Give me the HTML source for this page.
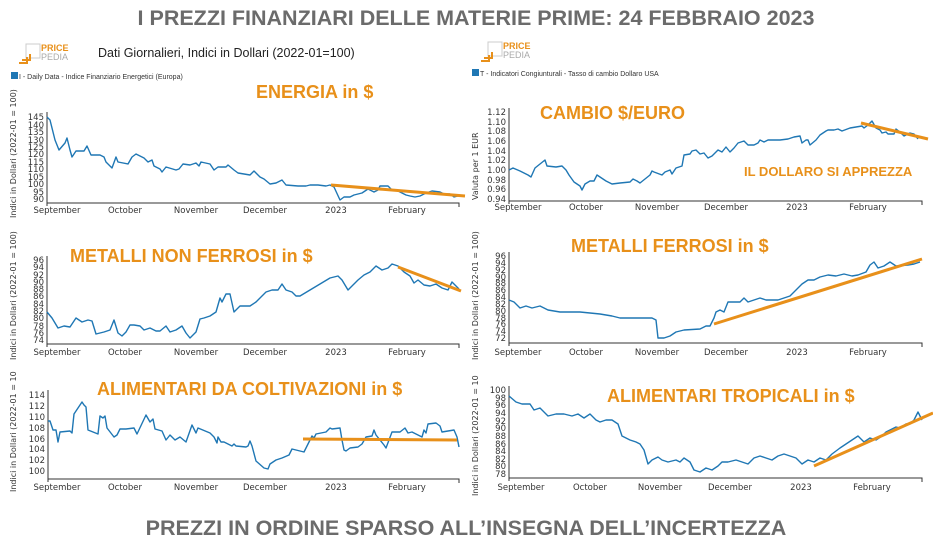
<!DOCTYPE html>
<html><head><meta charset="utf-8"><style>
body{margin:0;background:#fff;width:933px;height:554px;overflow:hidden}
svg{display:block;font-family:"Liberation Sans","DejaVu Sans",sans-serif}
.t{fill:#333;font-size:8.5px;text-anchor:end;font-family:"DejaVu Sans",sans-serif}
.m{fill:#333;font-size:8.5px;text-anchor:middle;font-family:"DejaVu Sans",sans-serif}
.s{fill:none;stroke:#1f77b4;stroke-width:1.4;stroke-linejoin:round}
.o{stroke:#e8901a;stroke-width:3}
.h{fill:#e8901a;font-weight:bold;font-size:18px}
.ax{stroke:#333;stroke-width:1;fill:none}
.yt{fill:#333;font-size:8px;font-family:"DejaVu Sans",sans-serif}
</style></head><body>
<svg width="933" height="554" viewBox="0 0 933 554">
<text x="476" y="25" text-anchor="middle" font-size="21.5" font-weight="bold" fill="#6b6b6b">I PREZZI FINANZIARI DELLE MATERIE PRIME: 24 FEBBRAIO 2023</text>
<text x="466" y="535" text-anchor="middle" font-size="21.5" font-weight="bold" fill="#6b6b6b">PREZZI IN ORDINE SPARSO ALL’INSEGNA DELL’INCERTEZZA</text>
<g><rect x="26" y="44" width="14" height="14" fill="none" stroke="#ccc"/><path d="M19 63h8v-6M22 60h8v-6" stroke="#e8901a" stroke-width="2" fill="none"/><text x="41" y="51" font-size="9" font-weight="bold" fill="#e8901a">PRICE</text><text x="41" y="60" font-size="9" fill="#aaa">PEDIA</text></g>
<g><rect x="488" y="42" width="14" height="14" fill="none" stroke="#ccc"/><path d="M481 61h8v-6M484 58h8v-6" stroke="#e8901a" stroke-width="2" fill="none"/><text x="503" y="49" font-size="9" font-weight="bold" fill="#e8901a">PRICE</text><text x="503" y="58" font-size="9" fill="#aaa">PEDIA</text></g>
<text x="98" y="57" font-size="12.5" fill="#222">Dati Giornalieri, Indici in Dollari (2022-01=100)</text>
<rect x="11" y="72" width="7" height="7" fill="#1f77b4"/><text x="19" y="79" font-size="7" fill="#333">I - Daily Data - Indice Finanziario Energetici (Europa)</text>
<rect x="472" y="69" width="7" height="7" fill="#1f77b4"/><text x="480" y="76" font-size="7" fill="#333">T - Indicatori Congiunturali - Tasso di cambio Dollaro USA</text>

<text class="h" x="256" y="98">ENERGIA in $</text>
<text class="h" x="540" y="119">CAMBIO $/EURO</text>
<text x="744" y="176" font-size="13" font-weight="bold" fill="#e8901a">IL DOLLARO SI APPREZZA</text>
<text class="h" x="70" y="262">METALLI  NON FERROSI in $</text>
<text class="h" x="571" y="252">METALLI FERROSI in $</text>
<text class="h" x="97" y="395">ALIMENTARI DA COLTIVAZIONI in $</text>
<text class="h" x="607" y="402">ALIMENTARI TROPICALI in $</text>

<text class="yt" transform="translate(16,218) rotate(-90)">Indici in Dollari (2022-01 = 100)</text>
<text class="yt" transform="translate(16,360) rotate(-90)">Indici in Dollari (2022-01 = 100)</text>
<text class="yt" transform="translate(16,492) rotate(-90)">Indici in Dollari (2022-01 = 10</text>
<text class="yt" transform="translate(478,200) rotate(-90)">Valuta per 1 EUR</text>
<text class="yt" transform="translate(478,360) rotate(-90)">Indici in Dollari (2022-01 = 100)</text>
<text class="yt" transform="translate(478,496) rotate(-90)">Indici in Dollari (2022-01 = 10</text>

<path class="ax" d="M47 112V203H459V207M47 203v3"/>
<g class="t"><text x="44" y="120">145</text><text x="44" y="128">140</text><text x="44" y="135">135</text><text x="44" y="143">130</text><text x="44" y="150">125</text><text x="44" y="157">120</text><text x="44" y="165">115</text><text x="44" y="172">110</text><text x="44" y="180">105</text><text x="44" y="187">100</text><text x="44" y="195">95</text><text x="44" y="202">90</text></g>
<g class="m"><text x="57" y="213">September</text><text x="125" y="213">October</text><text x="196" y="213">November</text><text x="265" y="213">December</text><text x="336" y="213">2023</text><text x="407" y="213">February</text></g>
<polyline class="s" points="47,117 50,120 55,140 59,150 65,143 67,138 70,150 72,157 76,151 84,151 87,146 91,155 100,155 104,157 106,162 112,168 116,157 118,162 128,164 132,157 136,154 144,158 148,162 152,160 154,166 160,169 162,172 166,167 176,170 179,169 183,164 190,165 196,163 199,166 201,162 210,164 214,170 218,167 226,167 228,165 234,170 238,173 250,175 254,171 260,177 264,179 270,184 276,183 282,180 286,185 298,186 306,186 310,185 318,185 326,186 330,185 334,187 340,200 344,197 350,197 354,195 362,193 368,189 374,192 378,190 380,186 388,186 392,190 398,191 406,195 410,196 415,197 420,196 426,193 432,191 440,192 444,194 450,194 454,197 458,196"/>
<line class="o" x1="331" y1="185" x2="465" y2="196"/>

<path class="ax" d="M47 256V344H459V348M47 344v3"/>
<g class="t"><text x="44" y="263">96</text><text x="44" y="270">94</text><text x="44" y="278">92</text><text x="44" y="285">90</text><text x="44" y="292">88</text><text x="44" y="299">86</text><text x="44" y="307">84</text><text x="44" y="314">82</text><text x="44" y="321">80</text><text x="44" y="329">78</text><text x="44" y="336">76</text><text x="44" y="343">74</text></g>
<g class="m"><text x="57" y="355">September</text><text x="125" y="355">October</text><text x="196" y="355">November</text><text x="265" y="355">December</text><text x="336" y="355">2023</text><text x="407" y="355">February</text></g>
<polyline class="s" points="47,312 52,318 58,328 64,326 70,327 76,318 82,322 88,320 92,321 96,334 104,332 110,330 114,320 118,333 122,336 126,332 130,325 134,325 140,326 144,330 150,328 156,331 160,331 166,326 170,332 176,330 182,326 186,333 190,338 196,332 200,319 204,318 210,316 216,312 220,298 222,302 226,294 230,294 234,312 240,306 250,306 256,302 260,298 266,292 272,290 278,290 282,284 286,290 292,292 296,296 300,296 310,290 320,284 330,278 338,276 342,280 348,290 352,286 358,280 364,275 370,272 376,266 382,270 388,268 392,264 398,266 404,272 410,276 414,283 418,280 424,285 430,286 436,284 442,288 448,290 452,282 456,286 459,289"/>
<line class="o" x1="398" y1="267" x2="461" y2="291"/>

<path class="ax" d="M48 390V479H459V483M48 479v3"/>
<g class="t"><text x="45" y="398">114</text><text x="45" y="409">112</text><text x="45" y="420">110</text><text x="45" y="431">108</text><text x="45" y="442">106</text><text x="45" y="452">104</text><text x="45" y="463">102</text><text x="45" y="474">100</text></g>
<g class="m"><text x="57" y="490">September</text><text x="125" y="490">October</text><text x="196" y="490">November</text><text x="265" y="490">December</text><text x="336" y="490">2023</text><text x="407" y="490">February</text></g>
<polyline class="s" points="48,421 50,421 53,430 56,430 58,442 60,432 70,431 72,433 74,414 82,402 84,405 86,407 88,430 98,434 100,416 103,418 105,416 107,428 114,437 117,435 120,429 126,429 134,428 137,434 146,415 150,422 153,419 155,429 162,431 166,440 170,435 175,440 180,437 186,442 192,425 196,433 198,428 210,433 214,437 217,443 218,437 221,442 224,442 232,446 234,444 236,446 246,447 248,446 250,441 252,446 256,461 264,468 268,469 270,464 276,460 282,458 289,455 292,449 296,450 304,452 308,444 312,436 314,438 316,434 326,432 330,428 332,429 340,428 342,440 344,450 346,451 350,448 358,447 362,444 366,437 372,436 374,430 376,435 384,445 386,448 392,432 400,432 405,428 408,433 412,432 418,435 422,437 424,430 426,433 428,424 436,423 440,426 442,432 454,430 457,437 459,447"/>
<line class="o" x1="303" y1="439" x2="457" y2="440"/>

<path class="ax" d="M509 108V201H922V205M509 201v3"/>
<g class="t"><text x="506" y="115">1.12</text><text x="506" y="125">1.10</text><text x="506" y="134">1.08</text><text x="506" y="144">1.06</text><text x="506" y="154">1.04</text><text x="506" y="163">1.02</text><text x="506" y="173">1.00</text><text x="506" y="183">0.98</text><text x="506" y="192">0.96</text><text x="506" y="202">0.94</text></g>
<g class="m"><text x="518" y="210">September</text><text x="586" y="210">October</text><text x="657" y="210">November</text><text x="726" y="210">December</text><text x="797" y="210">2023</text><text x="868" y="210">February</text></g>
<polyline class="s" points="509,170 513,168 520,171 528,175 531,177 535,168 545,160 547,166 556,167 562,166 566,170 569,175 574,182 580,186 582,190 585,184 590,181 594,181 597,175 600,177 606,181 612,184 620,183 630,182 633,179 637,181 640,183 650,175 652,171 654,172 662,175 665,172 670,170 672,174 676,168 682,166 684,155 690,154 692,151 696,150 700,154 704,153 708,158 712,156 718,150 722,152 726,147 730,152 734,148 738,143 744,141 748,145 754,145 758,143 760,140 764,142 768,140 780,140 788,139 794,137 800,136 802,143 806,140 808,140 810,145 816,140 820,135 826,131 828,130 834,130 838,129 842,131 850,128 856,127 862,126 864,128 868,125 872,121 876,128 880,130 882,133 886,132 888,134 894,134 896,129 900,132 904,136 910,133 914,134 918,139"/>
<line class="o" x1="861" y1="123" x2="928" y2="139"/>

<path class="ax" d="M509 252V343H922V347M509 343v3"/>
<g class="t"><text x="506" y="259">96</text><text x="506" y="266">94</text><text x="506" y="273">92</text><text x="506" y="280">90</text><text x="506" y="286">88</text><text x="506" y="293">86</text><text x="506" y="300">84</text><text x="506" y="307">82</text><text x="506" y="314">80</text><text x="506" y="321">78</text><text x="506" y="327">76</text><text x="506" y="334">74</text><text x="506" y="341">72</text></g>
<g class="m"><text x="518" y="355">September</text><text x="586" y="355">October</text><text x="657" y="355">November</text><text x="726" y="355">December</text><text x="797" y="355">2023</text><text x="868" y="355">February</text></g>
<polyline class="s" points="509,300 514,302 520,308 526,306 532,308 540,306 548,310 560,312 580,312 600,314 612,316 620,318 640,318 652,318 656,320 658,338 664,338 670,336 676,332 684,330 700,329 706,326 710,326 714,318 716,312 720,310 724,312 728,302 740,302 744,298 748,302 754,300 760,298 766,300 778,300 784,298 790,296 796,290 802,284 808,280 814,280 820,277 828,275 836,276 844,274 852,276 858,275 866,272 870,265 874,262 878,268 884,266 890,262 896,266 908,265 914,264 920,262"/>
<line class="o" x1="714" y1="324" x2="922" y2="259"/>

<path class="ax" d="M509 386V478H922V482M509 478v3"/>
<g class="t"><text x="506" y="393">100</text><text x="506" y="401">98</text><text x="506" y="408">96</text><text x="506" y="416">94</text><text x="506" y="424">92</text><text x="506" y="431">90</text><text x="506" y="439">88</text><text x="506" y="447">86</text><text x="506" y="454">84</text><text x="506" y="462">82</text><text x="506" y="469">80</text><text x="506" y="477">78</text></g>
<g class="m"><text x="521" y="490">September</text><text x="590" y="490">October</text><text x="660" y="490">November</text><text x="730" y="490">December</text><text x="801" y="490">2023</text><text x="872" y="490">February</text></g>
<polyline class="s" points="509,396 516,402 522,404 530,404 534,410 540,408 548,416 556,414 564,414 572,416 578,414 584,418 590,414 596,420 600,422 606,420 612,420 618,424 622,436 630,440 636,442 640,444 644,450 648,464 652,460 658,457 662,460 668,462 676,460 680,462 684,458 690,462 694,470 700,472 706,468 712,470 718,466 722,462 728,462 736,460 742,462 748,464 754,458 760,456 766,458 772,460 778,456 784,454 790,456 796,458 802,464 808,460 814,462 820,458 826,460 832,454 840,448 846,444 852,440 858,436 864,442 870,438 876,440 882,436 886,432 890,430 896,427 900,428 906,424 910,424 914,420 918,412 922,420"/>
<line class="o" x1="814" y1="466" x2="933" y2="413"/>
</svg>
</body></html>
